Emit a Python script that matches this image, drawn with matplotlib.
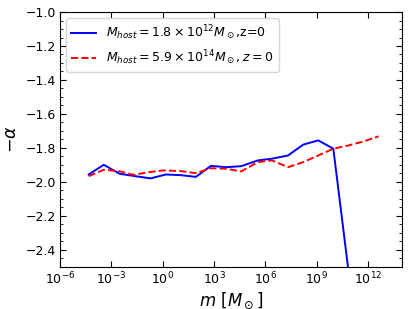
import numpy as np
import matplotlib
matplotlib.use("Agg")
import matplotlib.pyplot as plt
from matplotlib.ticker import AutoMinorLocator, NullLocator

# log10 of subhalo mass positions
logm_blue = [-4.33, -3.45, -2.51, -1.72, -0.71, 0.18, 1.06, 1.94, 2.82, 3.71,
             4.59, 5.57, 6.39, 7.33, 8.22, 9.10, 9.98, 10.86]
alpha_blue = [-1.957, -1.900, -1.953, -1.965, -1.980, -1.957, -1.961, -1.971, -1.906, -1.914,
              -1.908, -1.874, -1.864, -1.845, -1.781, -1.756, -1.805, -2.52]

logm_red = [-4.33, -3.45, -2.57, -1.72, -0.80, 0.06, 1.06, 1.94, 2.82, 3.71,
            4.59, 5.57, 6.39, 7.33, 8.22, 9.10, 9.98, 10.86, 11.75, 12.63]
alpha_red = [-1.967, -1.929, -1.937, -1.959, -1.943, -1.933, -1.937, -1.949, -1.920, -1.923,
             -1.939, -1.884, -1.874, -1.914, -1.884, -1.845, -1.805, -1.786, -1.762, -1.732]

xticks = [1e-6, 1e-3, 1e0, 1e3, 1e6, 1e9, 1e12]

label_blue = r"$M_{host}=1.8\times10^{12}M_\odot$,z=0"
label_red = r"$M_{host}=5.9\times10^{14}M_\odot, z=0$"

fig = plt.figure(figsize=(4.09, 3.09), dpi=100)
ax = fig.add_axes([0.147, 0.137, 0.836, 0.824])

ax.plot(10 ** np.array(logm_blue), alpha_blue, color="blue", lw=1.4, label=label_blue)
ax.plot(10 ** np.array(logm_red), alpha_red, color="red", lw=1.4, ls="--", label=label_red)

ax.set_xscale("log")
ax.set_xlim(1e-6, 1e14)
ax.set_ylim(-2.5, -1.0)
ax.set_xticks(xticks)
ax.xaxis.set_minor_locator(NullLocator())
ax.yaxis.set_minor_locator(AutoMinorLocator(4))
ax.tick_params(which="both", direction="in", top=True, right=True, labelsize=9, pad=3)
ax.tick_params(which="major", length=4)
ax.tick_params(which="minor", length=2)

ax.set_xlabel(r"$m\ [M_\odot]$", fontsize=12, labelpad=2)
ax.set_ylabel(r"$-\alpha$", fontsize=12.5, labelpad=4)
ax.legend(loc="upper left", fontsize=9, handlelength=2.0, borderaxespad=0.5)

fig.savefig("out.png", dpi=100)
